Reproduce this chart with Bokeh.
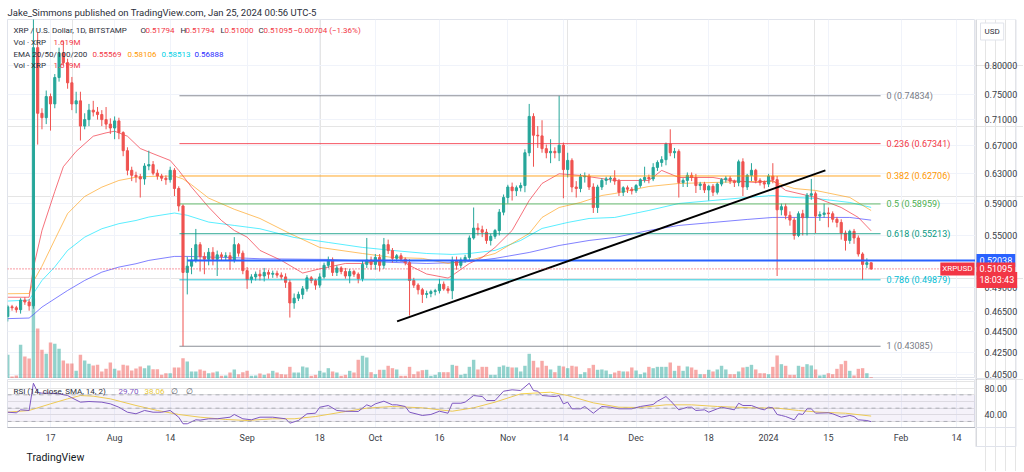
import numpy as np
import pandas as pd
from bokeh.plotting import figure
from bokeh.layouts import column, row
from bokeh.models import (Range1d, LinearScale, FixedTicker, Span, BoxAnnotation, Label, Grid,
                          ColumnDataSource, Title)
from bokeh.core.properties import value
from bokeh.embed import file_html
from bokeh.resources import INLINE

# ---------------- data ----------------
start_date = "2023-07-07"   # first daily candle

opens = [
    .460, .470, .469, .467, .477, .475, .471, .832, .720, .713,
    .747, .735, .779, .822, .805, .770, .735, .740, .700, .710,
    .725, .722, .718, .710, .703, .697, .708, .690, .663, .635,
    .628, .626, .623, .641, .643, .631, .627, .624, .622, .635,
    .610, .587, .507, .514, .521, .539, .525, .522, .530, .522,
    .527, .525, .526, .521, .539, .529, .509, .499, .502, .505,
    .503, .507, .505, .506, .504, .502, .496, .474, .479, .483,
    .489, .501, .498, .493, .502, .515, .521, .507, .512, .508,
    .503, .508, .505, .500, .516, .521, .516, .524, .515, .539,
    .532, .523, .526, .522, .518, .498, .493, .488, .483, .484,
    .486, .487, .494, .489, .487, .520, .515, .521, .524, .547,
    .559, .557, .554, .544, .549, .556, .579, .598, .612, .607,
    .611, .614, .660, .715, .686, .685, .666, .660, .662, .660,
    .671, .636, .649, .612, .610, .626, .627, .612, .585, .612,
    .621, .623, .624, .620, .605, .611, .609, .607, .614, .622,
    .625, .623, .639, .646, .650, .673, .660, .662, .618, .621,
    .628, .625, .614, .616, .608, .613, .605, .616, .622, .624,
    .620, .618, .647, .612, .628, .635, .621, .618, .616, .627,
    .622, .582, .586, .575, .569, .550, .577, .572, .601, .603,
    .574, .576, .578, .577, .570, .566, .553, .544, .555, .547,
    .528, .516, .51794]
highs = [
    .472, .472, .471, .479, .480, .478, .935, .860, .728, .757,
    .752, .785, .832, .845, .812, .780, .755, .755, .720, .735,
    .740, .730, .725, .730, .712, .715, .713, .692, .668, .640,
    .633, .630, .645, .663, .648, .636, .630, .628, .640, .638,
    .613, .589, .525, .535, .558, .542, .530, .535, .536, .532,
    .530, .530, .530, .548, .541, .532, .513, .505, .508, .510,
    .512, .510, .509, .509, .507, .506, .499, .484, .486, .492,
    .504, .503, .500, .506, .518, .525, .524, .515, .514, .512,
    .511, .510, .507, .520, .547, .525, .528, .528, .547, .545,
    .535, .528, .529, .524, .522, .501, .495, .490, .487, .488,
    .489, .500, .497, .492, .525, .525, .524, .527, .550, .585,
    .565, .562, .558, .552, .558, .583, .602, .615, .618, .614,
    .618, .665, .735, .720, .700, .709, .672, .680, .668, .74834,
    .675, .660, .652, .620, .630, .632, .630, .617, .615, .624,
    .626, .627, .635, .623, .613, .614, .612, .616, .624, .640,
    .629, .645, .649, .655, .675, .695, .667, .665, .624, .632,
    .632, .630, .619, .619, .615, .616, .618, .624, .627, .627,
    .622, .650, .652, .630, .645, .637, .624, .621, .630, .645,
    .627, .590, .590, .580, .572, .580, .582, .604, .623, .606,
    .580, .590, .585, .580, .573, .570, .556, .557, .558, .550,
    .530, .523, .51794]
lows = [
    .455, .466, .464, .463, .472, .466, .468, .672, .695, .703,
    .693, .728, .772, .800, .760, .725, .720, .678, .695, .700,
    .715, .710, .700, .695, .688, .680, .680, .655, .628, .620,
    .618, .598, .615, .635, .628, .622, .620, .615, .618, .600,
    .580, .43085, .483, .505, .518, .508, .505, .515, .515, .503,
    .520, .520, .510, .518, .525, .505, .489, .495, .498, .498,
    .497, .500, .501, .501, .499, .490, .459, .468, .476, .478,
    .486, .495, .488, .490, .500, .512, .503, .503, .505, .500,
    .495, .502, .495, .497, .512, .510, .510, .508, .511, .528,
    .518, .519, .519, .515, .461, .490, .483, .474, .479, .480,
    .482, .484, .487, .484, .478, .510, .512, .518, .520, .545,
    .550, .548, .540, .538, .546, .550, .575, .590, .594, .600,
    .606, .605, .655, .640, .667, .660, .652, .645, .652, .648,
    .597, .625, .605, .598, .605, .618, .608, .578, .578, .608,
    .615, .618, .615, .600, .600, .604, .602, .604, .611, .618,
    .617, .620, .634, .640, .642, .655, .652, .598, .612, .612,
    .620, .604, .608, .604, .594, .600, .602, .613, .618, .616,
    .612, .613, .600, .608, .620, .617, .614, .610, .612, .617,
    .503, .575, .570, .562, .545, .548, .550, .550, .595, .553,
    .568, .572, .560, .566, .560, .545, .532, .540, .540, .525,
    .4988, .512, .51000]
closes = [
    .470, .469, .467, .477, .475, .471, .832, .720, .713, .747,
    .735, .779, .822, .805, .770, .735, .740, .700, .710, .725,
    .722, .718, .710, .703, .697, .708, .690, .663, .635, .628,
    .626, .623, .641, .643, .631, .627, .624, .622, .635, .610,
    .587, .507, .514, .521, .539, .525, .522, .530, .522, .527,
    .525, .526, .521, .539, .529, .509, .499, .502, .505, .503,
    .507, .505, .506, .504, .502, .496, .474, .479, .483, .489,
    .501, .498, .493, .502, .515, .521, .507, .512, .508, .503,
    .508, .505, .500, .516, .521, .516, .524, .515, .539, .532,
    .523, .526, .522, .518, .498, .493, .488, .483, .484, .486,
    .487, .494, .489, .487, .520, .515, .521, .524, .547, .559,
    .557, .554, .544, .549, .556, .579, .598, .612, .607, .611,
    .614, .660, .715, .686, .685, .666, .660, .662, .660, .671,
    .636, .649, .612, .610, .626, .627, .612, .585, .612, .621,
    .623, .624, .620, .605, .611, .609, .607, .614, .622, .625,
    .623, .639, .646, .650, .673, .660, .662, .618, .621, .628,
    .625, .614, .616, .608, .613, .605, .616, .622, .624, .620,
    .618, .647, .612, .628, .635, .621, .618, .616, .627, .622,
    .582, .586, .575, .569, .550, .577, .572, .601, .603, .574,
    .576, .578, .577, .570, .566, .553, .544, .555, .547, .528,
    .516, .51794, .51095]
volumes_m = [   # million XRP
    29.6, 2.5, 3.8, 42.1, 27.5, 25, 100, 62.5, 35.9, 30.9,
    45, 43.4, 37.1, 22.5, 18.8, 18.8, 9.6, 29.6, 22.5, 18.4,
    16.3, 17.1, 8.8, 12.1, 20, 12.1, 10, 17.1, 16.3, 10,
    12.5, 15, 12.9, 16.3, 11.6, 11.6, 4.6, 6.6, 6.6, 13.8,
    13.8, 25.4, 21.3, 8.8, 8.8, 11.3, 9.6, 6.6, 7.5, 8.8,
    3.4, 3.8, 7.5, 11.3, 5.4, 7.9, 9.6, 3.4, 3.8, 6.3,
    4.6, 6.3, 9.6, 7.5, 5.4, 5, 14.6, 7.5, 7.5, 15,
    13.8, 3.4, 4.6, 9.6, 7.5, 12.9, 8.8, 7.5, 3.4, 4.6,
    9.6, 7.5, 23.4, 28.4, 26.3, 7.9, 5.4, 10.9, 10.9, 15.9,
    12.9, 11.3, 3.4, 3.4, 14.6, 5.4, 8.8, 10.4, 10.9, 3.4,
    4.6, 7.9, 7.9, 7.9, 17.1, 15.9, 4.6, 5.9, 14.6, 23.4,
    11.3, 14.6, 14.6, 4.6, 4.6, 14.6, 16.3, 14.6, 13.8, 13.8,
    8.8, 15.9, 30.9, 22.1, 13.8, 22.1, 15.9, 11.3, 7.9, 15.9,
    15, 12.9, 15.9, 15, 5.4, 7.9, 12.9, 17.1, 10.9, 11.3,
    10, 5.4, 7.5, 9.6, 8.8, 8.8, 13.8, 10, 5.4, 7.5,
    14.6, 12.9, 14.6, 14.6, 14.6, 20, 9.6, 15.9, 9.6, 15,
    13.8, 10.9, 5.4, 5.4, 10.9, 8.8, 11.3, 15.9, 11.3, 5.4,
    5.4, 8.8, 13.8, 14.6, 17.1, 11.3, 6.6, 6.6, 5.4, 14.6,
    28.8, 17.9, 15.9, 4.6, 4.6, 15.9, 14.6, 17.9, 16.3, 11.3,
    3.8, 4.6, 6.6, 5.4, 12.1, 17.9, 22.1, 9.6, 3.8, 12.1,
    12.9, 6.6, 1.619]

# EMA lines read at sample days (day offset from start_date, value)
ema20_days = [0, 5, 6, 8, 11, 13, 16, 20, 23, 25, 28, 31, 34, 38, 40, 43, 47, 50, 53, 56, 59, 64, 69, 73,
              79, 83, 87, 92, 94, 98, 103, 104, 108, 111, 114, 118, 122, 125, 129, 134, 142, 150, 153, 157,
              165, 169, 175, 179, 182, 189, 195, 199, 202]
ema20_vals = [.480, .480, .512, .556, .606, .640, .662, .6845, .6896, .6921, .6845, .6662, .6586, .6489, .6348,
              .6118, .5854, .5685, .5561, .548, .5322, .5206, .5063, .511, .5171, .5171, .5206, .5206, .5148,
              .5052, .5007, .5036, .5171, .524, .5357, .5561, .5941, .6168, .6301, .6278, .6209, .6209, .6348,
              .625, .625, .6209, .6181, .6209, .6074, .5981, .585, .5723, .55569]
ema50_days = [0, 5, 6, 8, 11, 14, 18, 22, 26, 30, 33, 39, 41, 43, 47, 53, 59, 66, 73, 83, 90, 97, 103, 108,
              114, 118, 122, 125, 129, 134, 139, 142, 150, 157, 165, 173, 179, 184, 189, 197, 202]
ema50_vals = [.4837, .484, .497, .514, .545, .5772, .5994, .6118, .6209, .6254, .6264, .627, .623, .615, .5972,
              .5827, .571, .5524, .5357, .5286, .524, .5229, .5171, .5206, .5286, .5404, .5524, .5723, .585,
              .5915, .6007, .6033, .6127, .6168, .6181, .6195, .6195, .61, .6074, .5981, .58106]
ema100_days = [0, 5, 6, 8, 11, 14, 18, 22, 26, 30, 33, 39, 42, 47, 53, 59, 67, 75, 83, 90, 98, 104, 108, 114,
               120, 125, 131, 136, 142, 150, 157, 165, 173, 179, 184, 189, 197, 202]
ema100_vals = [.476, .477, .484, .4981, .5132, .5322, .548, .5582, .5645, .5685, .5728, .5779, .575, .5665,
               .5623, .5582, .5476, .5416, .5357, .5322, .5286, .5275, .5286, .5322, .544, .5586, .566, .571,
               .5723, .5812, .5902, .5941, .5981, .6007, .5981, .5968, .5915, .58513]
ema200_days = [0, 5, 6, 8, 14, 18, 22, 26, 30, 33, 39, 42, 47, 53, 59, 75, 90, 98, 106, 114, 122, 129, 136,
               142, 150, 157, 165, 173, 179, 189, 197, 202]
ema200_vals = [.4579, .4585, .462, .4697, .4872, .4981, .5073, .513, .5168, .5206, .5252, .5252, .5245, .5237,
               .5225, .5217, .5183, .5171, .5183, .5229, .5298, .538, .544, .5476, .5561, .5623, .566, .5698,
               .5723, .5723, .5723, .56888]

# RSI(14) and its SMA(14), read at sample days
rsi_days = [0, 2, 3, 5, 6, 7, 8, 10, 12, 14, 15, 17, 19, 22, 24, 26, 28, 30, 32, 34, 36, 38, 40, 41, 42, 44,
            45, 47, 49, 52, 53, 55, 57, 59, 62, 65, 66, 68, 70, 72, 73, 75, 77, 79, 82, 84, 85, 86, 88, 90,
            91, 93, 94, 97, 99, 101, 103, 104, 106, 107, 109, 111, 112, 114, 116, 118, 120, 122, 123, 124,
            125, 128, 129, 130, 131, 132, 134, 135, 137, 139, 141, 143, 146, 148, 151, 152, 154, 155, 157,
            159, 160, 161, 163, 164, 166, 167, 170, 171, 172, 174, 176, 177, 178, 179, 180, 181, 182, 184,
            185, 186, 187, 188, 189, 192, 193, 195, 197, 198, 199, 201, 202]
rsi_vals = [43.9, 43, 47.5, 46.5, 87.5, 74, 72.5, 72.5, 71.5, 69, 65.5, 59, 60, 59, 56.5, 51.4, 43.9, 41.5,
            46.5, 43.9, 43.9, 46.5, 36.4, 26.5, 26.5, 32.5, 32, 34, 34, 36.4, 40.5, 34, 32.5, 36.4, 36.4, 34,
            27.4, 31.4, 41.5, 42.4, 51.4, 54, 46.5, 45.4, 45, 55, 52.5, 56.5, 60.5, 55, 55, 52.5, 43.9, 39,
            40.5, 45.4, 42.4, 57.4, 57.4, 59, 69, 67.5, 61.5, 61.5, 75.5, 77.6, 76.5, 87.5, 76.5, 75.5, 69,
            67.5, 69, 56.5, 59, 49, 49, 52.5, 42.4, 52.5, 51.4, 49, 49, 52.5, 55.5, 60.5, 67.5, 61.5, 47.5,
            51.4, 51.4, 46.5, 47.5, 43.9, 49, 51.4, 47.5, 57.4, 54, 54, 49, 47.5, 51.4, 50.5, 40.5, 39, 37.4,
            32.5, 41.5, 40.5, 49, 49, 42.4, 43, 41.5, 36.4, 39, 37.4, 32.5, 31.4, 29.70]
sma_days = [0, 5, 10, 14, 17, 20, 24, 30, 35, 40, 45, 51, 56, 62, 67, 72, 78, 84, 90, 97, 101, 104, 109, 114,
            120, 127, 131, 137, 143, 148, 154, 160, 166, 174, 180, 185, 190, 196, 202]
sma_vals = [43.9, 46.5, 56.5, 64, 69, 68, 64, 54, 46.5, 40.5, 36.4, 33, 31.4, 34, 34, 37.4, 43.9, 50, 52.5,
            50.5, 47.5, 45.4, 50.5, 59, 71.5, 74, 69, 58, 51.4, 51, 55, 55, 52.5, 50.5, 50, 46.5, 43.9, 42.4,
            38.06]

# drawings
fib_levels = ["0", "0.236", "0.382", "0.5", "0.618", "0.786", "1"]
fib_prices = [0.74834, 0.67341, 0.62706, 0.58959, 0.55213, 0.49879, 0.43085]
fib_colors = ["#787b86", "#f23645", "#ff9800", "#4caf50", "#089981", "#00bcd4", "#787b86"]
fib_start = "2023-08-16 04:00"
fib_end = "2024-01-27 05:00"
trend_dates = ["2023-10-06 02:00", "2024-01-14 07:00"]
trend_prices = [0.4551, 0.6348]
hline_start = "2023-08-18"
hline_price = 0.52038
last_price = 0.51095
countdown = "18:03:43"

price_ticks = [0.405, 0.425, 0.445, 0.465, 0.49, 0.55, 0.59, 0.63, 0.67, 0.71, 0.75, 0.80]
rsi_ticks = [40, 80]
rsi_bands = [70, 50, 30]
time_ticks = ["2023-07-17", "2023-08-01", "2023-08-14", "2023-09-01", "2023-09-18", "2023-10-01",
              "2023-10-16", "2023-11-01", "2023-11-14", "2023-12-01", "2023-12-18", "2024-01-01",
              "2024-01-15", "2024-02-01", "2024-02-14"]
time_labels = ["17", "Aug", "14", "Sep", "18", "Oct", "16", "Nov", "14", "Dec", "18", "2024", "15", "Feb", "14"]
x_start, x_end = "2023-07-06 22:30", "2024-02-18 10:00"

# ---------------- layout constants ----------------
FONT = "Roboto"
UP, DN = "#26a69a", "#ef5350"
RED = "#f23645"
GRID = "#f0f3fa"
AXC = "#b2b5be"
BORDER = "#e0e3eb"
TXT = "#2a2e39"
LBL = "#3b3e47"
DAY = 86400000.0
FW = 968            # plot frame width
AW = 48             # price-scale column width
TOPB = 19           # space above the panes
PH, RH, GAP, BOT = 359, 48, 1, 44
PTOP, PBOT = 0.8853, 0.4013      # visible price span of the price pane (log)
RTOP, RBOT = 93.1, 20.9          # visible span of the RSI pane


def ms(t):
    return float(pd.Timestamp(t).value // 10**6)


def day_x(days):
    base = ms(start_date)
    return [base + d * DAY for d in days]


n = len(closes)
xs = day_x(range(n))
o, h, l, c = (np.array(a, dtype=float) for a in (opens, highs, lows, closes))
col = np.where(c >= o, UP, DN)
src = ColumnDataSource(dict(x=xs, h=h, l=l, top=np.maximum(o, c), bot=np.minimum(o, c),
                            col=col, vol=np.array(volumes_m)))
tticks = [ms(t) for t in time_ticks]


def lab(fig, x, y, text, color=TXT, size="8px", xu="screen", yu="screen", **kw):
    fig.add_layout(Label(x=x, y=y, x_units=xu, y_units=yu, text=text, text_color=color,
                         text_font=FONT, text_font_size=size, text_baseline="middle", **kw))


# ---- price pane ----
p = figure(frame_width=FW, frame_height=PH,
           x_range=Range1d(ms(x_start), ms(x_end)), y_range=Range1d(PBOT, PTOP),
           y_axis_type="log", x_axis_location=None, y_axis_location=None,
           title="Jake_Simmons published on TradingView.com, Jan 25, 2024 00:56 UTC-5",
           output_backend="svg", toolbar_location=None,
           min_border_left=7, min_border_right=0, min_border_top=TOPB, min_border_bottom=0,
           background_fill_color="white", border_fill_color="white", outline_line_color=BORDER)
p.title.align = "left"
p.title.offset = 0
p.title.standoff = 4
p.title.text_font = FONT
p.title.text_font_size = "9.5px"
p.title.text_font_style = "normal"
p.title.text_color = TXT

p.extra_y_ranges = {"vol": Range1d(0, 449)}
p.extra_y_scales = {"vol": LinearScale()}

p.add_layout(Grid(dimension=0, ticker=FixedTicker(ticks=tticks), grid_line_color=GRID))
p.add_layout(Grid(dimension=1, ticker=FixedTicker(ticks=price_ticks), grid_line_color=GRID))

p.vbar(x="x", width=0.8 * DAY, top="vol", bottom=0, source=src, y_range_name="vol",
       fill_color="col", fill_alpha=0.5, line_color=None)

p.line(day_x(ema200_days), ema200_vals, line_color="#3d3dff", line_alpha=0.65, line_width=1)
p.line(day_x(ema100_days), ema100_vals, line_color="#00e5ff", line_alpha=0.65, line_width=1)
p.line(day_x(ema50_days), ema50_vals, line_color="#ff9800", line_alpha=0.6, line_width=1)
p.line(day_x(ema20_days), ema20_vals, line_color=RED, line_alpha=0.7, line_width=1)

p.add_layout(Span(location=last_price, dimension="width", line_color=RED,
                  line_dash="1 2", line_width=1))

p.segment(x0="x", x1="x", y0="h", y1="l", line_color="col", line_width=1, source=src)
p.vbar(x="x", width=0.5 * DAY, top="top", bottom="bot", fill_color="col", line_color="col",
       line_width=1, source=src)

n_f = len(fib_prices)
p.segment(x0=[ms(fib_start)] * n_f, x1=[ms(fib_end)] * n_f, y0=fib_prices, y1=fib_prices,
          line_color=fib_colors, line_width=1, line_alpha=0.85)
p.text(x=[ms(fib_end)] * n_f, y=fib_prices,
       text=[f"{lv} ({pr:.5f})" for lv, pr in zip(fib_levels, fib_prices)],
       text_color=fib_colors, x_offset=6, text_baseline="middle", text_align="left",
       text_font=value(FONT), text_font_size="9px")

p.segment(x0=[ms(hline_start)], x1=[ms(x_end)], y0=[hline_price], y1=[hline_price],
          line_color="#2962ff", line_width=2)
p.line([ms(t) for t in trend_dates], trend_prices, line_color="black", line_width=2)

lab(p, 6, 348, "XRP / U.S. Dollar, 1D, BITSTAMP")
for xx, t, cc in [(133, "O", TXT), (138, f"{opens[-1]:.5f}", RED),
                  (173, "H", TXT), (178, f"{highs[-1]:.5f}", RED),
                  (213, "L", TXT), (217, f"{lows[-1]:.5f}", RED),
                  (251, "C", TXT), (256, f"{closes[-1]:.5f}", RED),
                  (286, "\u22120.00704 (\u22121.36%)", RED)]:
    lab(p, xx, 348, t, cc)
lab(p, 6, 336, "Vol \u00b7 XRP")
lab(p, 46, 336, f"{volumes_m[-1]:.3f}M", RED)
lab(p, 6, 324.5, "EMA 20/50/100/200")
for xx, v, cc in [(85, ema20_vals[-1], RED), (120, ema50_vals[-1], "#ff9800"),
                  (154, ema100_vals[-1], "#00d0e6"), (187, ema200_vals[-1], "#2929ff")]:
    lab(p, xx, 324.5, f"{v:.5f}", cc)
lab(p, 6, 313, "Vol \u00b7 XRP")
lab(p, 46, 313, f"{volumes_m[-1]:.3f}M", RED)
lab(p, FW - 1, last_price, "XRPUSD", "white", "8px", yu="data", text_align="right",
    background_fill_color=RED, padding=2)

# ---- RSI pane ----
r = figure(frame_width=FW, frame_height=RH, x_range=p.x_range, y_range=Range1d(RBOT, RTOP),
           y_axis_location=None, title=None, output_backend="svg", toolbar_location=None,
           min_border_left=7, min_border_right=0, min_border_top=GAP, min_border_bottom=BOT,
           background_fill_color="white", border_fill_color="white", outline_line_color=BORDER)
r.add_layout(BoxAnnotation(bottom=rsi_bands[2], top=rsi_bands[0], fill_color="#7e57c2",
                           fill_alpha=0.08, line_color=None))
for lvl in rsi_bands:
    r.add_layout(Span(location=lvl, dimension="width", line_color="#9598a1", line_alpha=0.7,
                      line_dash="4 4", line_width=1))
r.line(day_x(sma_days), sma_vals, line_color="#f7d44c", line_width=1)
r.line(day_x(rsi_days), rsi_vals, line_color="#7e57c2", line_width=1)

xa = r.xaxis[0]
xa.ticker = FixedTicker(ticks=tticks)
xa.major_label_overrides = {t: s for t, s in zip(tticks, time_labels)}
xa.major_tick_line_color = None
xa.minor_tick_line_color = None
xa.major_tick_out = 0
xa.major_tick_in = 0
xa.minor_tick_out = 0
xa.axis_line_color = AXC
xa.major_label_standoff = 5
xa.major_label_text_font = FONT
xa.major_label_text_font_size = "9px"
xa.major_label_text_color = LBL
r.xgrid.grid_line_color = GRID

lab(r, 6, 36.3, "RSI (14, close, SMA, 14, 2)")
lab(r, 111, 36.3, f"{rsi_vals[-1]:.2f}", "#7e57c2")
lab(r, 137, 36.3, f"{sma_vals[-1]:.2f}", "#e8c83a")
lab(r, 163, 36.3, "\u2205", "#50535e")
lab(r, 178, 36.3, "\u2205", "#50535e")

r.add_layout(Title(text="TradingView", align="left", offset=19, standoff=6, text_font=FONT,
                   text_font_size="10.5px", text_font_style="normal", text_color="#131722"), "below")

# ---- price / RSI scale column (shares both panes' scales) ----
SH = PH + GAP + RH + BOT
kpx = np.log(PTOP / PBOT) / PH
upx = (RTOP - RBOT) / RH
rsi_span = (RBOT - upx * BOT, RTOP + upx * (PH + GAP))
pa = figure(frame_width=AW, frame_height=SH, x_range=Range1d(0, AW),
            y_range=Range1d(PTOP * np.exp(-kpx * SH), PTOP),
            y_axis_type="log", x_axis_location=None, y_axis_location=None, title=None,
            output_backend="svg", toolbar_location=None,
            min_border_left=0, min_border_right=0, min_border_top=TOPB, min_border_bottom=0,
            background_fill_color="white", border_fill_color="white", outline_line_color=None)
pa.extra_y_ranges = {"rsi": Range1d(*rsi_span)}
pa.extra_y_scales = {"rsi": LinearScale()}

# scale line, pane separators and chart border
pa.segment(x0=[0.5], x1=[0.5], y0=[rsi_span[1]], y1=[RBOT - upx * 19], y_range_name="rsi",
           line_color=AXC, line_width=1)
pa.segment(x0=[AW - 7.5], x1=[AW - 7.5], y0=[rsi_span[1]], y1=[RBOT - upx * 19], y_range_name="rsi",
           line_color=BORDER, line_width=1)
pa.segment(x0=[0, 0], x1=[AW - 7.5, AW - 7.5], y0=[PTOP, PBOT], y1=[PTOP, PBOT],
           line_color=BORDER, line_width=1)
pa.segment(x0=[0, 0], x1=[AW - 7.5, AW - 7.5], y0=[RBOT, RBOT - upx * 19], y1=[RBOT, RBOT - upx * 19],
           y_range_name="rsi", line_color=BORDER, line_width=1)

pa.text(x=[9] * len(price_ticks), y=price_ticks, text=[f"{t:.5f}" for t in price_ticks],
        text_color=LBL, text_baseline="middle", text_align="left",
        text_font=value(FONT), text_font_size="9px")
pa.text(x=[9] * len(rsi_ticks), y=rsi_ticks, text=[f"{t:.2f}" for t in rsi_ticks],
        y_range_name="rsi", text_color=LBL, text_baseline="middle", text_align="left",
        text_font=value(FONT), text_font_size="9px")

lab(pa, 5, SH - 12, "USD", TXT, "8px", background_fill_color="white",
    border_line_color=BORDER, padding=4)
lab(pa, 1, hline_price, f"{hline_price:.5f}", "white", "9px", xu="data", yu="data",
    background_fill_color="#2962ff", padding=3)
lab(pa, 1, last_price, f"{last_price:.5f}", "white", "9px", xu="data", yu="data",
    background_fill_color=RED, padding=3)
lab(pa, 1, last_price, countdown, "white", "9px", xu="data", yu="data",
    background_fill_color=RED, padding=3, y_offset=-11)

layout = row(column(p, r), pa)
open("out.html", "w").write(file_html(layout, INLINE))
